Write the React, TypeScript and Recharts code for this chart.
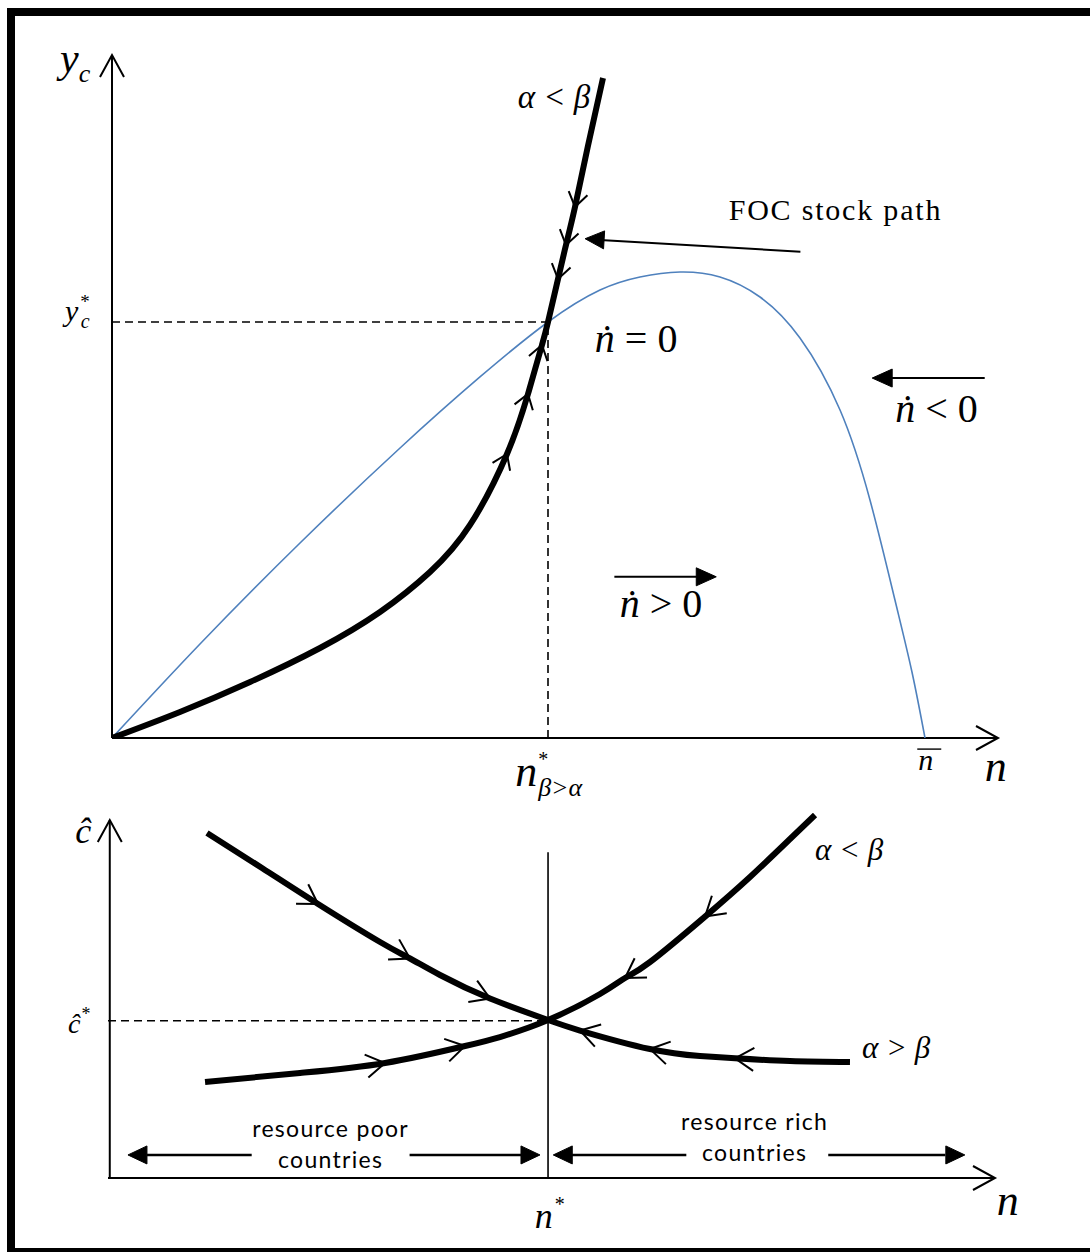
import React from 'react';
import { ComposedChart, Line, XAxis, YAxis, ReferenceLine, ReferenceDot } from 'recharts';

const MATH = '"Liberation Serif", "Times New Roman", serif';
const SANS = 'Lato, "Open Sans", sans-serif';

// ---- top panel: stock n against y_c (0..100 units on both axes) ----
// arrow: +1 = motion along increasing index, -1 = against
const focStockPath = [
  { n: 0, y: 0 },
  { n: 7.67, y: 3.81 },
  { n: 15.58, y: 8.2 },
  { n: 23.48, y: 13.18 },
  { n: 30.25, y: 18.45 },
  { n: 35.89, y: 24.3 },
  { n: 40.41, y: 31.19 },
  { n: 44.58, y: 41.58, arrow: 1 },
  { n: 46.95, y: 50.37, arrow: 1 },
  { n: 48.53, y: 57.54, arrow: 1 },
  { n: 49.21, y: 60.91 },
  { n: 50.34, y: 67.2, arrow: -1 },
  { n: 51.24, y: 72.18, arrow: -1 },
  { n: 52.26, y: 77.75, arrow: -1 },
  { n: 53.72, y: 86.68 },
  { n: 55.42, y: 96.63 },
];

const growthCurve = [
  { n: 0, y: 0 },
  { n: 9.93, y: 13.76 },
  { n: 21.22, y: 28.55 },
  { n: 32.51, y: 42.46 },
  { n: 41.53, y: 52.86 },
  { n: 49.21, y: 60.91 },
  { n: 55.08, y: 65.59 },
  { n: 59.59, y: 67.5 },
  { n: 64.11, y: 68.23 },
  { n: 68.62, y: 67.5 },
  { n: 73.14, y: 64.57 },
  { n: 77.65, y: 58.57 },
  { n: 82.17, y: 48.02 },
  { n: 85.55, y: 34.85 },
  { n: 88.37, y: 20.2 },
  { n: 90.29, y: 9.66 },
  { n: 91.76, y: 0 },
];

const nStar = 49.21;
const yStar = 60.91;

// ---- bottom panel: stock n against c-hat ----
const pathAlphaBelowBeta = [
  { n: 10.94, c: 25.4 },
  { n: 21.65, c: 27.78 },
  { n: 31.23, c: 30.42, arrow: 1 },
  { n: 40.25, c: 34.92, arrow: 1 },
  { n: 44.19, c: 37.3 },
  { n: 49.61, c: 41.8 },
  { n: 55.47, c: 48.68 },
  { n: 58.29, c: 52.91, arrow: -1 },
  { n: 61.11, c: 57.14 },
  { n: 67.31, c: 69.15, arrow: -1 },
  { n: 72.38, c: 79.63 },
  { n: 76.89, c: 89.68 },
  { n: 79.71, c: 96.03 },
];

const pathAlphaAboveBeta = [
  { n: 11.16, c: 91.27 },
  { n: 17.36, c: 82.01 },
  { n: 23.68, c: 72.49, arrow: 1 },
  { n: 30.67, c: 62.43 },
  { n: 34.05, c: 58.07, arrow: 1 },
  { n: 37.43, c: 53.7 },
  { n: 43.07, c: 47.49, arrow: 1 },
  { n: 49.61, c: 41.8 },
  { n: 53.21, c: 39.02, arrow: -1 },
  { n: 61.1, c: 34.13, arrow: -1 },
  { n: 66.74, c: 32.28 },
  { n: 70.69, c: 31.67, arrow: -1 },
  { n: 76.89, c: 30.95 },
  { n: 83.65, c: 30.69 },
];

const nStarLow = 49.61;
const cStar = 41.6;

// small open chevrons sitting on a path, oriented along it
const chevron = (size: number, ang: number) => {
  const seen: Record<number, { x: number; y: number }> = {};
  return (props: any) => {
    const { cx, cy, index, payload, points } = props;
    const key = `chev-${index}`;
    if (cx == null || cy == null) return <g key={key} />;
    seen[index] = { x: cx, y: cy };
    if (!payload || !payload.arrow) return <g key={key} />;
    const a = (points && points[index - 1]) || seen[index - 1] || { x: cx, y: cy };
    const b = (points && points[index + 1]) || { x: cx, y: cy };
    let dx = b.x - a.x;
    let dy = b.y - a.y;
    const len = Math.hypot(dx, dy) || 1;
    dx = (dx / len) * payload.arrow;
    dy = (dy / len) * payload.arrow;
    const arm = (s: number) => {
      const c = Math.cos(s * ang);
      const sn = Math.sin(s * ang);
      const rx = dx * c - dy * sn;
      const ry = dx * sn + dy * c;
      return `${cx - rx * size},${cy - ry * size}`;
    };
    return (
      <path key={key} d={`M${arm(1)} L${cx},${cy} L${arm(-1)}`} fill="none" stroke="#000" strokeWidth={2} />
    );
  };
};

// arrow head with its tip on the reference point
const head = (deg: number, len: number, half: number, filled: boolean) => (p: any) => {
  const { cx, cy } = p;
  if (cx == null) return <g />;
  const a = (deg * Math.PI) / 180;
  const ux = Math.cos(a);
  const uy = Math.sin(a);
  const bx = cx - ux * len;
  const by = cy - uy * len;
  const px = -uy * half;
  const py = ux * half;
  const d = filled
    ? `M${cx},${cy} L${bx + px},${by + py} L${bx - px},${by - py} Z`
    : `M${bx + px},${by + py} L${cx},${cy} L${bx - px},${by - py}`;
  return <path d={d} fill={filled ? '#000' : 'none'} stroke="#000" strokeWidth={filled ? 1 : 2} />;
};

const label = (render: (x: number, y: number) => React.ReactNode) => (p: any) =>
  p.cx == null ? <g /> : <g>{render(p.cx, p.cy)}</g>;

const seg = (x1: number, y1: number, x2: number, y2: number, w = 2, dash?: string) => (
  <ReferenceLine
    segment={[{ x: x1, y: y1 }, { x: x2, y: y2 }]}
    stroke="#000"
    strokeWidth={w}
    strokeDasharray={dash}
    ifOverflow="visible"
  />
);

const mathText = (x: number, y: number, size: number, content: React.ReactNode, italic = true) => (
  <text x={x} y={y} fontFamily={MATH} fontSize={size} fontStyle={italic ? 'italic' : 'normal'} fill="#000">
    {content}
  </text>
);

const nDot = (rel: string) => (x: number, y: number) => (
  <text x={x} y={y} fontFamily={MATH} fontSize={40} fill="#000">
    <tspan fontStyle="italic">ṅ</tspan>
    <tspan>{` ${rel} 0`}</tspan>
  </text>
);

const sans = (x: number, y: number, s: string) => (
  <text x={x} y={y} textAnchor="middle" fontFamily={SANS} fontSize={23} letterSpacing={1.3} fill="#000">{s}</text>
);

// top plot spans 112..998 px across and 55..738 px down
const TopPanel = () => (
  <ComposedChart width={1090} height={830} margin={{ top: 55, right: 92, bottom: 92, left: 112 }}>
    <XAxis type="number" dataKey="n" domain={[0, 100]} allowDataOverflow hide />
    <YAxis type="number" domain={[0, 100]} allowDataOverflow hide />
    {seg(0, 0, 100, 0)}
    {seg(0, 0, 0, 100)}
    <ReferenceDot x={100} y={0} ifOverflow="visible" shape={head(0, 22, 12, false)} />
    <ReferenceDot x={0} y={100} ifOverflow="visible" shape={head(-90, 22, 12, false)} />
    {seg(0, yStar, nStar, yStar, 1.6, '8 5')}
    {seg(nStar, 0, nStar, yStar, 1.6, '8 5')}
    <Line data={growthCurve} dataKey="y" type="natural" stroke="#4F81BD" strokeWidth={1.6} dot={false} activeDot={false} isAnimationActive={false} />
    <Line data={focStockPath} dataKey="y" type="natural" stroke="#000" strokeWidth={6} dot={chevron(17, 0.6)} activeDot={false} isAnimationActive={false} />
    {/* FOC pointer */}
    {seg(77.7, 71.2, 55.1, 72.9)}
    <ReferenceDot x={53.4} y={73.1} ifOverflow="visible" shape={head(183.5, 19, 9, true)} />
    {/* n-dot arrows */}
    {seg(98.5, 52.7, 87.8, 52.7)}
    <ReferenceDot x={85.8} y={52.7} ifOverflow="visible" shape={head(180, 20, 9, true)} />
    {seg(56.7, 23.6, 66.4, 23.6)}
    <ReferenceDot x={68.2} y={23.6} ifOverflow="visible" shape={head(0, 20, 9, true)} />
    {/* labels */}
    <ReferenceDot x={-5.87} y={97.5} ifOverflow="visible" shape={label((x, y) => mathText(x, y, 42, <>y<tspan fontSize={26} dy={10}>c</tspan></>))} />
    <ReferenceDot x={-5.3} y={61.0} ifOverflow="visible" shape={label((x, y) =>
      mathText(x, y, 30, <>y<tspan fontSize={19} fontStyle="normal" dx={2} dy={-13}>*</tspan><tspan fontSize={20} dx={-9} dy={20}>c</tspan></>)
    )} />
    <ReferenceDot x={45.8} y={92.2} ifOverflow="visible" shape={label((x, y) => mathText(x, y, 33, 'α < β'))} />
    <ReferenceDot x={69.6} y={75.8} ifOverflow="visible" shape={label((x, y) => (
      <text x={x} y={y} fontFamily={MATH} fontSize={30} letterSpacing={1.8} fill="#000">FOC stock path</text>
    ))} />
    <ReferenceDot x={54.5} y={56.5} ifOverflow="visible" shape={label(nDot('='))} />
    <ReferenceDot x={88.4} y={46.3} ifOverflow="visible" shape={label(nDot('<'))} />
    <ReferenceDot x={57.3} y={17.7} ifOverflow="visible" shape={label(nDot('>'))} />
    <ReferenceDot x={45.5} y={-7.0} ifOverflow="visible" shape={label((x, y) =>
      mathText(x, y, 44, <>n<tspan fontSize={20} fontStyle="normal" dx={1} dy={-20}>*</tspan><tspan fontSize={26} dx={-10} dy={30}>β&gt;α</tspan></>)
    )} />
    <ReferenceDot x={91.0} y={-4.7} ifOverflow="visible" shape={label((x, y) => (
      <>
        <line x1={x - 1} y1={y - 21} x2={x + 23} y2={y - 21} stroke="#000" strokeWidth={1.4} />
        {mathText(x, y, 30, 'n')}
      </>
    ))} />
    <ReferenceDot x={98.5} y={-6.3} ifOverflow="visible" shape={label((x, y) => mathText(x, y, 44, 'n'))} />
  </ComposedChart>
);

// bottom plot spans 108..995 px across and 800..1178 px down
const BottomPanel = () => (
  <ComposedChart width={1090} height={472} margin={{ top: 20, right: 95, bottom: 74, left: 108 }}>
    <XAxis type="number" dataKey="n" domain={[0, 100]} allowDataOverflow hide />
    <YAxis type="number" domain={[0, 100]} allowDataOverflow hide />
    {seg(0, 0, 100, 0)}
    {seg(0.2, 0, 0.2, 94.7)}
    <ReferenceDot x={100} y={0} ifOverflow="visible" shape={head(0, 22, 12, false)} />
    <ReferenceDot x={0.2} y={94.7} ifOverflow="visible" shape={head(-90, 22, 12, false)} />
    {seg(nStarLow, 0, nStarLow, 86.2, 1.6)}
    {seg(0, cStar, nStarLow, cStar, 1.6, '8 5')}
    <Line data={pathAlphaAboveBeta} dataKey="c" type="natural" stroke="#000" strokeWidth={6} dot={chevron(22, 0.55)} activeDot={false} isAnimationActive={false} />
    <Line data={pathAlphaBelowBeta} dataKey="c" type="natural" stroke="#000" strokeWidth={6} dot={chevron(22, 0.55)} activeDot={false} isAnimationActive={false} />
    {/* resource poor / rich double arrows */}
    {seg(4.4, 6.1, 16.2, 6.1, 2.5)}
    {seg(34.0, 6.1, 46.7, 6.1, 2.5)}
    <ReferenceDot x={2.25} y={6.1} ifOverflow="visible" shape={head(180, 19, 9, true)} />
    <ReferenceDot x={48.7} y={6.1} ifOverflow="visible" shape={head(0, 19, 9, true)} />
    {seg(52.3, 6.1, 65.2, 6.1, 2.5)}
    {seg(81.2, 6.1, 94.4, 6.1, 2.5)}
    <ReferenceDot x={50.2} y={6.1} ifOverflow="visible" shape={head(180, 19, 9, true)} />
    <ReferenceDot x={96.6} y={6.1} ifOverflow="visible" shape={head(0, 19, 9, true)} />
    <ReferenceDot x={25.1} y={10.8} ifOverflow="visible" shape={label((x, y) => (
      <>
        {sans(x, y, 'resource poor')}
        {sans(x, y + 31, 'countries')}
      </>
    ))} />
    <ReferenceDot x={72.9} y={12.7} ifOverflow="visible" shape={label((x, y) => (
      <>
        {sans(x, y, 'resource rich')}
        {sans(x, y + 31, 'countries')}
      </>
    ))} />
    {/* math labels */}
    <ReferenceDot x={-3.7} y={88.6} ifOverflow="visible" shape={label((x, y) => mathText(x, y, 36, 'ĉ'))} />
    <ReferenceDot x={-4.5} y={38.4} ifOverflow="visible" shape={label((x, y) =>
      mathText(x, y, 28, <>ĉ<tspan fontSize={18} fontStyle="normal" dx={1} dy={-13}>*</tspan></>)
    )} />
    <ReferenceDot x={48.1} y={-13.2} ifOverflow="visible" shape={label((x, y) =>
      mathText(x, y, 36, <>n<tspan fontSize={20} fontStyle="normal" dx={2} dy={-17}>*</tspan></>)
    )} />
    <ReferenceDot x={100.2} y={-9.8} ifOverflow="visible" shape={label((x, y) => mathText(x, y, 44, 'n'))} />
    <ReferenceDot x={79.7} y={84.1} ifOverflow="visible" shape={label((x, y) => mathText(x, y, 31, 'α < β'))} />
    <ReferenceDot x={85.0} y={31.7} ifOverflow="visible" shape={label((x, y) => mathText(x, y, 31, 'α > β'))} />
  </ComposedChart>
);

export default function App() {
  return (
    <div style={{ position: 'absolute', left: 0, top: 0, width: 1090, height: 1252, overflow: 'hidden', background: '#fff' }}>
      <div style={{ position: 'absolute', left: 7, top: 8, width: 1200, height: 1248, boxSizing: 'border-box', border: '8px solid #000' }} />
      <div style={{ position: 'absolute', left: 0, top: 0 }}>
        <TopPanel />
      </div>
      <div style={{ position: 'absolute', left: 0, top: 780 }}>
        <BottomPanel />
      </div>
    </div>
  );
}
